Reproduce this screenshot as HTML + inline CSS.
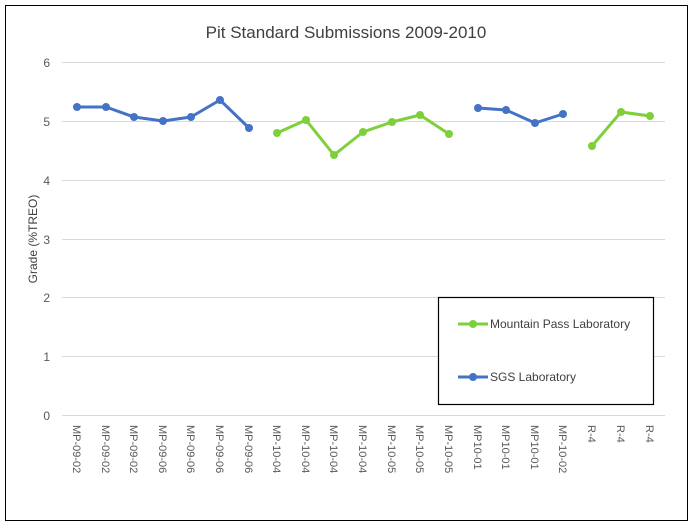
<!DOCTYPE html><html><head><style>body{margin:0;background:#fff}</style></head><body>
<svg width="693" height="526" xmlns="http://www.w3.org/2000/svg" font-family="Liberation Sans, sans-serif">
<rect x="5.5" y="5.5" width="682" height="515" fill="#fff" stroke="#000" stroke-width="1"/>
<text x="346" y="38" text-anchor="middle" font-size="17" fill="#404040">Pit Standard Submissions 2009-2010</text>
<g stroke="#d9d9d9" stroke-width="1">
<line x1="62" x2="665" y1="62.5" y2="62.5"/><line x1="62" x2="665" y1="121.5" y2="121.5"/><line x1="62" x2="665" y1="180.5" y2="180.5"/><line x1="62" x2="665" y1="239.5" y2="239.5"/><line x1="62" x2="665" y1="297.5" y2="297.5"/><line x1="62" x2="665" y1="356.5" y2="356.5"/><line x1="62" x2="665" y1="415.5" y2="415.5"/>
</g>
<g font-size="12" fill="#595959" text-anchor="end">
<text x="50" y="67">6</text><text x="50" y="126">5</text><text x="50" y="185">4</text><text x="50" y="244">3</text><text x="50" y="302">2</text><text x="50" y="361">1</text><text x="50" y="420">0</text>
</g>
<text transform="translate(37,239) rotate(-90)" text-anchor="middle" font-size="12" fill="#404040">Grade (%TREO)</text>
<g font-size="11" fill="#595959">
<text transform="translate(73,425) rotate(90)">MP-09-02</text>
<text transform="translate(102,425) rotate(90)">MP-09-02</text>
<text transform="translate(130,425) rotate(90)">MP-09-02</text>
<text transform="translate(159,425) rotate(90)">MP-09-06</text>
<text transform="translate(187,425) rotate(90)">MP-09-06</text>
<text transform="translate(216,425) rotate(90)">MP-09-06</text>
<text transform="translate(245,425) rotate(90)">MP-09-06</text>
<text transform="translate(273,425) rotate(90)">MP-10-04</text>
<text transform="translate(302,425) rotate(90)">MP-10-04</text>
<text transform="translate(330,425) rotate(90)">MP-10-04</text>
<text transform="translate(359,425) rotate(90)">MP-10-04</text>
<text transform="translate(388,425) rotate(90)">MP-10-05</text>
<text transform="translate(416,425) rotate(90)">MP-10-05</text>
<text transform="translate(445,425) rotate(90)">MP-10-05</text>
<text transform="translate(474,425) rotate(90)">MP10-01</text>
<text transform="translate(502,425) rotate(90)">MP10-01</text>
<text transform="translate(531,425) rotate(90)">MP10-01</text>
<text transform="translate(559,425) rotate(90)">MP-10-02</text>
<text transform="translate(588,425) rotate(90)">R-4</text>
<text transform="translate(617,425) rotate(90)">R-4</text>
<text transform="translate(646,425) rotate(90)">R-4</text>
</g>
<g fill="none" stroke-width="3" stroke-linejoin="round">
<polyline stroke="#4472c4" points="77,107 106,107 134,117 163,121 191,117 220,100 249,128"/>
<polyline stroke="#7ed03b" points="277,133 306,120 334,155 363,132 392,122 420,115 449,134"/>
<polyline stroke="#4472c4" points="478,108 506,110 535,123 563,114"/>
<polyline stroke="#7ed03b" points="592,146 621,112 650,116"/>
</g>
<g fill="#4472c4">
<circle cx="77" cy="107" r="4"/><circle cx="106" cy="107" r="4"/><circle cx="134" cy="117" r="4"/><circle cx="163" cy="121" r="4"/><circle cx="191" cy="117" r="4"/><circle cx="220" cy="100" r="4"/><circle cx="249" cy="128" r="4"/>
<circle cx="478" cy="108" r="4"/><circle cx="506" cy="110" r="4"/><circle cx="535" cy="123" r="4"/><circle cx="563" cy="114" r="4"/>
</g>
<g fill="#7ed03b">
<circle cx="277" cy="133" r="4"/><circle cx="306" cy="120" r="4"/><circle cx="334" cy="155" r="4"/><circle cx="363" cy="132" r="4"/><circle cx="392" cy="122" r="4"/><circle cx="420" cy="115" r="4"/><circle cx="449" cy="134" r="4"/>
<circle cx="592" cy="146" r="4"/><circle cx="621" cy="112" r="4"/><circle cx="650" cy="116" r="4"/>
</g>
<rect x="438.5" y="297.5" width="215" height="107" fill="#fff" stroke="#000" stroke-width="1.2"/>
<line x1="458" x2="488" y1="324" y2="324" stroke="#7ed03b" stroke-width="3"/><circle cx="473" cy="324" r="4" fill="#7ed03b"/>
<text x="490" y="328" font-size="12" fill="#404040">Mountain Pass Laboratory</text>
<line x1="458" x2="488" y1="377" y2="377" stroke="#4472c4" stroke-width="3"/><circle cx="473" cy="377" r="4" fill="#4472c4"/>
<text x="490" y="381" font-size="12" fill="#404040">SGS Laboratory</text>
</svg>
</body></html>
